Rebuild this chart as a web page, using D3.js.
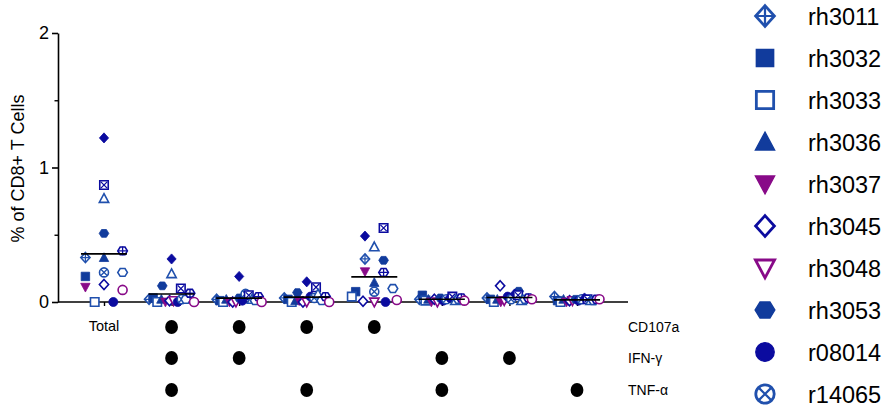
<!DOCTYPE html>
<html>
<head>
<meta charset="utf-8">
<script src="https://cdn.jsdelivr.net/npm/d3@7"></script>
<style>
  body { margin: 0; background: #fff; }
  svg { display: block; }
  text { font-family: "Liberation Sans", Arial, Helvetica, sans-serif; fill: #000; }
</style>
</head>
<body>
<svg id="chart" width="888" height="410"></svg>
<script>
// ---- data -------------------------------------------------------------
// Cytokine / degranulation subsets, "Total" first, then Boolean combinations
const groupLabels = ["Total", "", "", "", "", "", "", ""];
const functions = ["CD107a", "IFN-γ", "TNF-α"];
const cd107a = [false, true, true, true, true, false, false, false];
const ifng   = [false, true, true, false, false, true, true, false];
const tnfa   = [false, true, false, true, false, true, false, true];

const yTicks = [0, 1, 2];
const yMinorTicks = [0.5, 1.5];

// % of CD8+ T cells per animal, one value per subset (null = not measured)
const rh3011 = [0.33, 0.02, 0.02, 0.03, 0.32, 0.02, 0.03, 0.04];
const rh3032 = [0.19, 0.03, 0.01, 0.02, 0.077, 0.05, 0.02, 0.01];
const rh3033 = [0.00, 0.00, 0.00, 0.00, 0.04, 0.01, 0.00, 0.00];
const rh3036 = [0.33, 0.02, 0.02, 0.01, 0.145, 0.02, 0.02, 0.02];
const rh3037 = [0.11, 0.00, 0.00, 0.01, 0.225, 0.00, 0.00, 0.00];
const rh3045 = [0.13, 0.01, 0.00, 0.00, 0.005, 0.02, 0.12, 0.01];
const rh3048 = [null, 0.01, 0.00, 0.00, 0.00, 0.00, 0.01, 0.01];
const rh3053 = [0.51, 0.12, 0.03, 0.07, 0.31, 0.03, 0.08, 0.02];
const r08014 = [0.00, 0.00, 0.01, 0.04, 0.00, 0.01, 0.04, 0.01];
const r14065 = [0.22, 0.02, 0.06, 0.03, 0.077, 0.02, 0.02, 0.02];
// animals without a legend entry
const unlisted1 = [1.22, 0.32, 0.19, 0.15, 0.49, 0.03, 0.06, 0.03];
const unlisted2 = [0.87, 0.10, 0.05, 0.11, 0.55, 0.04, 0.05, 0.02];
const unlisted3 = [0.77, 0.21, 0.02, 0.06, 0.41, 0.01, 0.01, 0.01];
const unlisted4 = [0.22, 0.02, 0.01, 0.01, 0.10, 0.02, 0.02, 0.01];
const unlisted5 = [0.38, 0.065, 0.04, 0.04, 0.22, 0.03, 0.03, 0.02];
const unlisted6 = [0.09, 0.00, 0.00, 0.00, 0.015, 0.01, 0.02, 0.02];

const animalNames = ["rh3011", "rh3032", "rh3033", "rh3036", "rh3037",
                     "rh3045", "rh3048", "rh3053", "r08014", "r14065",
                     null, null, null, null, null, null];
const animalValues = [rh3011, rh3032, rh3033, rh3036, rh3037, rh3045, rh3048,
                      rh3053, r08014, r14065, unlisted1, unlisted2, unlisted3,
                      unlisted4, unlisted5, unlisted6];

// ---- marker styles ----------------------------------------------------
const ROYAL = "#113b9c", MID = "#2050ad", NAVY = "#0b0b9f", PURPLE = "#880a88";
const markerStyles = [
  { shape: "diamond",  overlay: "plus", filled: false, color: MID },
  { shape: "square",   filled: true,  color: ROYAL },
  { shape: "square",   filled: false, color: MID },
  { shape: "triangle", filled: true,  color: ROYAL },
  { shape: "triDown",  filled: true,  color: PURPLE },
  { shape: "diamond",  filled: false, color: NAVY },
  { shape: "triDown",  filled: false, color: PURPLE },
  { shape: "hexagon",  filled: true,  color: ROYAL },
  { shape: "circle",   filled: true,  color: NAVY },
  { shape: "circle",   overlay: "x",  filled: false, color: MID },
  { shape: "diamond",  filled: true,  color: NAVY },
  { shape: "square",   overlay: "x",  filled: false, color: NAVY },
  { shape: "triangle", filled: false, color: MID },
  { shape: "hexagon",  filled: false, color: MID },
  { shape: "hexagon",  overlay: "plus", filled: false, color: NAVY },
  { shape: "circle",   filled: false, color: PURPLE }
];

// custom symbol types; size is interpreted as r*r
const shapeTypes = {
  square:   { draw(c, s) { const r = Math.sqrt(s) * 0.92; c.rect(-r, -r, 2 * r, 2 * r); } },
  diamond:  { draw(c, s) { const r = Math.sqrt(s); c.moveTo(0, -r * 1.1); c.lineTo(r * 1.0, 0); c.lineTo(0, r * 1.1); c.lineTo(-r * 1.0, 0); c.closePath(); } },
  triangle: { draw(c, s) { const r = Math.sqrt(s); c.moveTo(0, -r * 1.05); c.lineTo(r * 1.02, r * 0.85); c.lineTo(-r * 1.02, r * 0.85); c.closePath(); } },
  triDown:  { draw(c, s) { const r = Math.sqrt(s); c.moveTo(0, r * 1.05); c.lineTo(r * 1.02, -r * 0.85); c.lineTo(-r * 1.02, -r * 0.85); c.closePath(); } },
  circle:   { draw(c, s) { const r = Math.sqrt(s) * 0.98; c.moveTo(r, 0); c.arc(0, 0, r, 0, 2 * Math.PI); } },
  hexagon:  { draw(c, s) { const r = Math.sqrt(s) * 1.05;
    for (let k = 0; k < 6; k++) { const a = k * Math.PI / 3; const px = r * Math.cos(a), py = r * Math.sin(a) * 0.93;
      if (k === 0) c.moveTo(px, py); else c.lineTo(px, py); } c.closePath(); } },
  plus:     { draw(c, s) { const r = Math.sqrt(s) * 0.95; c.moveTo(-r, 0); c.lineTo(r, 0); c.moveTo(0, -r); c.lineTo(0, r); } },
  x:        { draw(c, s) { const r = Math.sqrt(s) * 0.68; c.moveTo(-r, -r); c.lineTo(r, r); c.moveTo(r, -r); c.lineTo(-r, r); } }
};

function drawMarker(g, style, r, sw) {
  g.append("path")
    .attr("d", d3.symbol().type(shapeTypes[style.shape]).size(r * r)())
    .attr("fill", style.filled ? style.color : "#fff")
    .attr("stroke", style.color)
    .attr("stroke-width", style.filled ? sw * 0.5 : sw)
    .attr("stroke-linejoin", "miter");
  if (style.overlay) {
    g.append("path")
      .attr("d", d3.symbol().type(shapeTypes[style.overlay]).size(r * r)())
      .attr("fill", "none")
      .attr("stroke", style.color)
      .attr("stroke-width", sw * 0.8);
  }
}

// ---- layout -----------------------------------------------------------
const svg = d3.select("#chart");
const axisLeftX = 58, axisRightX = 628;
const y = d3.scaleLinear().domain([0, 2]).range([302, 33]);
const x = d3.scalePoint().domain(d3.range(groupLabels.length)).range([104, 577]);

// y axis
const yAxis = svg.append("g").attr("transform", `translate(${axisLeftX},0)`)
  .call(d3.axisLeft(y).tickValues(yTicks).tickSize(6).tickSizeOuter(0).tickPadding(3).tickFormat(d3.format("d")));
yAxis.select(".domain").attr("stroke-width", 1.6);
yAxis.selectAll(".tick line").attr("stroke-width", 1.6);
yAxis.selectAll(".tick text").style("font-size", "18px").attr("font-family", null);
svg.append("g").attr("transform", `translate(${axisLeftX},0)`)
  .call(d3.axisLeft(y).tickValues(yMinorTicks).tickSize(3.5).tickFormat(""))
  .call(g => g.select(".domain").remove())
  .selectAll(".tick line").attr("stroke-width", 1.4);

svg.append("text")
  .attr("transform", `translate(24,${(y(0) + y(2)) / 2 + 1}) rotate(-90)`)
  .attr("text-anchor", "middle")
  .style("font-size", "18px")
  .text("% of CD8+ T Cells");

// x axis (baseline with a tick under each subset)
const xAxis = svg.append("g").attr("transform", `translate(0,${y(0)})`)
  .call(d3.axisBottom(x).tickSize(4).tickSizeOuter(0).tickFormat(""));
xAxis.select(".domain").attr("d", `M${axisLeftX},0H${axisRightX}`).attr("stroke-width", 1.6);
xAxis.selectAll(".tick line").attr("stroke-width", 1.4);

// ---- scatter: points spread horizontally within rows -----------------
const rowPx = 9, maxSpan = 45, colStep = 18.6;
const points = [];
groupLabels.forEach((_, gi) => {
  const pts = animalValues.map((vals, si) => ({ si, gi, v: vals[gi] })).filter(p => p.v != null);
  pts.sort((a, b) => a.v - b.v || a.si - b.si);
  const rows = [];
  let cur = null;
  pts.forEach(p => {
    const py = y(p.v);
    if (!cur || cur.base - py > rowPx) { cur = { base: py, pts: [] }; rows.push(cur); }
    cur.pts.push(p);
  });
  rows.forEach(row => {
    row.pts.sort((a, b) => a.si - b.si);
    const n = row.pts.length;
    const sp = n > 1 ? Math.min(colStep, maxSpan / (n - 1)) : 0;
    row.pts.forEach((p, i) => { p.x = x(gi) + (i - (n - 1) / 2) * sp; p.y = y(p.v); });
  });
  points.push(...pts);
});

const markerLayer = svg.append("g");
points.sort((a, b) => a.si - b.si).forEach(p => {
  const g = markerLayer.append("g").attr("transform", `translate(${p.x},${p.y})`);
  drawMarker(g, markerStyles[p.si], 4.6, 1.6);
});

// mean line per subset
groupLabels.forEach((_, gi) => {
  const m = d3.mean(animalValues, vals => vals[gi]);
  svg.append("line")
    .attr("x1", x(gi) - maxSpan / 2 - 0.5).attr("x2", x(gi) + maxSpan / 2 + 0.5)
    .attr("y1", y(m)).attr("y2", y(m))
    .attr("stroke", "#000").attr("stroke-width", 1.6);
});

// ---- subset labels / function matrix ----------------------------------
const matrixRowsY = [327, 358, 390];
svg.selectAll(".glabel").data(groupLabels).join("text")
  .attr("x", (d, i) => x(i)).attr("y", 331)
  .attr("text-anchor", "middle").style("font-size", "14.5px")
  .text(d => d);

[cd107a, ifng, tnfa].forEach((row, ri) => {
  const on = row.map((flag, i) => ({ flag, i })).filter(d => d.flag);
  svg.append("g").selectAll("ellipse").data(on).join("ellipse")
    .attr("cx", d => x(d.i)).attr("cy", matrixRowsY[ri])
    .attr("rx", 6.4).attr("ry", 7).attr("fill", "#000");
  svg.append("text")
    .attr("x", 628).attr("y", matrixRowsY[ri] + 5)
    .style("font-size", "14px")
    .text(functions[ri]);
});

// ---- legend -------------------------------------------------------------
const legendItems = animalNames.map((name, i) => ({ name, i })).filter(d => d.name);
legendItems.forEach((d, k) => {
  const cy = 16 + k * 42;
  const g = svg.append("g").attr("transform", `translate(765,${cy})`);
  drawMarker(g, markerStyles[d.i], 9.4, 2.8);
  svg.append("text").attr("x", 808).attr("y", cy + 8.5)
    .style("font-size", "23.5px").text(d.name);
});
</script>
</body>
</html>
